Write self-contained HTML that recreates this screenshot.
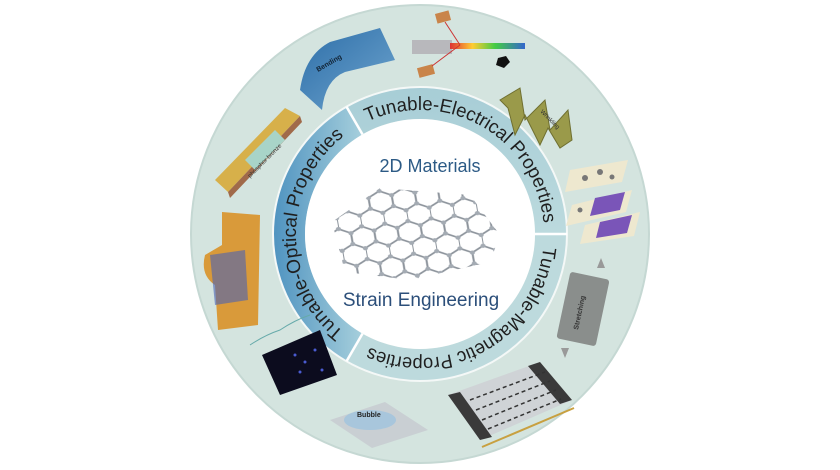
<!DOCTYPE html>
<html><head><meta charset="utf-8"><style>
html,body{margin:0;padding:0;background:#fff;}
svg{display:block;}
</style></head><body>
<svg width="840" height="470" viewBox="0 0 840 470" xmlns="http://www.w3.org/2000/svg" font-family="Liberation Sans, sans-serif">
<defs>
<linearGradient id="opt" x1="0" y1="0" x2="1" y2="0">
<stop offset="0" stop-color="#4f93c0"/><stop offset="1" stop-color="#a6cfdc"/></linearGradient>
<linearGradient id="ele" x1="0" y1="0" x2="0" y2="1">
<stop offset="0" stop-color="#a7cdd6"/><stop offset="1" stop-color="#bcdade"/></linearGradient>
<linearGradient id="bend" x1="0" y1="0" x2="1" y2="1">
<stop offset="0" stop-color="#2d6ea8"/><stop offset="1" stop-color="#6fa5cf"/></linearGradient>
<linearGradient id="rain" x1="0" y1="0" x2="1" y2="0">
<stop offset="0" stop-color="#d33"/><stop offset="0.3" stop-color="#fc3"/><stop offset="0.6" stop-color="#4c4"/><stop offset="1" stop-color="#36c"/></linearGradient>
<pattern id="hex" width="17.32" height="30" patternUnits="userSpaceOnUse" patternTransform="translate(330,180) scale(1.35,1.1) rotate(-8)">
<path d="M0,5 L8.66,0 L17.32,5 M0,5 L0,15 L8.66,20 L17.32,15 M8.66,20 L8.66,30" stroke="#8d949c" stroke-width="1.5" fill="none"/>
<g fill="#a4abb3"><circle cx="0" cy="5" r="1.9"/><circle cx="8.66" cy="0" r="1.9"/><circle cx="17.32" cy="5" r="1.9"/><circle cx="0" cy="15" r="1.9"/><circle cx="17.32" cy="15" r="1.9"/><circle cx="8.66" cy="20" r="1.9"/><circle cx="8.66" cy="30" r="1.9"/></g>
</pattern>
<path id="pO" d="M358,341.4 A124 124 0 0 1 358,126.6"/>
<path id="pE" d="M358,126.6 A124 124 0 0 1 544,234"/>
<path id="pM" d="M544,234 A124 124 0 0 1 358,341.4"/>
</defs>

<circle cx="420" cy="234" r="229" fill="#d4e4df" stroke="#c5d8d3" stroke-width="2"/>

<path d="M346.5,361.3 A147 147 0 0 1 346.5,106.7 L362.5,134.4 A115 115 0 0 0 362.5,333.6 Z" fill="url(#opt)"/>
<path d="M346.5,106.7 A147 147 0 0 1 567,234 L535,234 A115 115 0 0 0 362.5,134.4 Z" fill="url(#ele)"/>
<path d="M567,234 A147 147 0 0 1 346.5,361.3 L362.5,333.6 A115 115 0 0 0 535,234 Z" fill="#bddadd"/>
<circle cx="420" cy="234" r="115" fill="#fff"/>
<circle cx="420" cy="234" r="147" fill="none" stroke="#f4f8f7" stroke-width="2"/>
<g stroke="#fff" stroke-width="2.5">
<line x1="346.5" y1="106.7" x2="362.5" y2="134.4"/>
<line x1="567" y1="234" x2="535" y2="234"/>
<line x1="346.5" y1="361.3" x2="362.5" y2="333.6"/>
</g>
<g font-size="19" fill="#1f1f1f">
<text><textPath href="#pO" startOffset="50%" text-anchor="middle" textLength="226" lengthAdjust="spacingAndGlyphs">Tunable-Optical Properties</textPath></text>
<text><textPath href="#pE" startOffset="50%" text-anchor="middle" textLength="238" lengthAdjust="spacingAndGlyphs">Tunable-Electrical Properties</textPath></text>
<text><textPath href="#pM" startOffset="50%" text-anchor="middle" textLength="234" lengthAdjust="spacingAndGlyphs">Tunable-Magnetic Properties</textPath></text>
</g>

<text x="430" y="172" font-size="18" fill="#2c5a85" text-anchor="middle">2D Materials</text>
<polygon points="332,222 380,188 470,195 500,235 490,262 410,280 345,272" fill="url(#hex)"/>
<text x="421" y="306" font-size="19" fill="#2c4f7a" text-anchor="middle">Strain Engineering</text>

<path d="M300,90 Q305,55 330,42 L380,28 L395,60 L345,72 Q325,80 322,110 Z" fill="url(#bend)"/>
<text x="318" y="72" font-size="7" font-weight="bold" fill="#123" transform="rotate(-30 318 72)">Bending</text>
<rect x="436" y="12" width="14" height="10" fill="#c9844a" transform="rotate(-15 443 17)"/>
<rect x="412" y="40" width="40" height="14" fill="#b8b8bc"/>
<rect x="450" y="43" width="75" height="6" fill="url(#rain)"/>
<rect x="418" y="66" width="16" height="10" fill="#c9844a" transform="rotate(-15 426 71)"/>
<line x1="445" y1="22" x2="460" y2="45" stroke="#c33" stroke-width="1"/>
<line x1="460" y1="45" x2="432" y2="66" stroke="#c33" stroke-width="1"/>
<polygon points="498,58 506,56 510,62 504,68 496,65" fill="#111"/>
<path d="M500,100 L520,88 L525,120 L545,100 L550,130 L568,110 L572,140 L560,148 L548,128 L540,145 L525,115 L515,135 L508,108 Z" fill="#9a9a4a" stroke="#6f6f30" stroke-width="1"/>
<text x="540" y="112" font-size="6" fill="#333" transform="rotate(45 540 112)">Wrinkling</text>
<polygon points="570,170 628,160 622,182 565,192" fill="#eee8cf"/>
<polygon points="572,205 632,190 626,212 566,226" fill="#eee8cf"/>
<polygon points="595,198 625,192 620,210 590,216" fill="#7a55b8"/>
<polygon points="585,225 640,212 634,236 580,244" fill="#eee8cf"/>
<polygon points="600,222 632,215 627,233 596,238" fill="#7a55b8"/>
<g fill="#777"><circle cx="585" cy="178" r="3"/><circle cx="600" cy="172" r="3"/><circle cx="612" cy="177" r="2.5"/><circle cx="580" cy="210" r="2.5"/></g>
<rect x="563" y="275" width="40" height="68" rx="3" fill="#8a8e8c" transform="rotate(12 583 309)"/>
<text x="578" y="330" font-size="7" font-weight="bold" fill="#333" transform="rotate(-78 578 330)">Stretching</text>
<polygon points="601,258 605,268 597,268" fill="#999"/>
<polygon points="565,358 569,348 561,348" fill="#999"/>
<polygon points="448,395 540,362 572,400 480,440" fill="#cfd3d6"/>
<polygon points="448,395 460,392 492,437 480,440" fill="#3a3a3a"/>
<polygon points="528,366 540,362 572,400 560,404" fill="#3a3a3a"/>
<line x1="482" y1="447" x2="574" y2="408" stroke="#c8a040" stroke-width="2"/>
<g stroke="#333" stroke-width="1.5" stroke-dasharray="4 3" fill="none">
<line x1="470" y1="400" x2="545" y2="372"/><line x1="476" y1="410" x2="550" y2="381"/><line x1="482" y1="420" x2="556" y2="390"/><line x1="488" y1="429" x2="561" y2="399"/></g>
<polygon points="330,420 385,402 428,430 372,448" fill="#c9cfd3"/>
<ellipse cx="370" cy="420" rx="26" ry="10" fill="#a8c6dc"/>
<text x="357" y="417" font-size="7" font-weight="bold" fill="#222">Bubble</text>
<polygon points="262,355 320,330 337,375 280,395" fill="#0c0c1e"/>
<g fill="#4a5bd0"><circle cx="295" cy="355" r="1.5"/><circle cx="305" cy="362" r="1.5"/><circle cx="315" cy="350" r="1.5"/><circle cx="300" cy="372" r="1.5"/><circle cx="322" cy="370" r="1.5"/></g>
<path d="M250,345 Q265,335 280,330 Q295,320 310,315" stroke="#6aa" fill="none"/>
<path d="M222,212 L260,215 L258,325 L218,330 L215,285 Q200,275 205,255 L222,245 Z" fill="#d99a3a"/>
<path d="M210,255 L245,250 L248,300 L215,305 Z" fill="#4a62b4" opacity="0.6"/>
<polygon points="215,180 285,108 300,116 228,192" fill="#d7b04a"/>
<polygon points="228,192 300,116 302,122 230,198" fill="#a06a4a"/>
<polygon points="245,160 275,130 285,140 255,170" fill="#a8d4c8"/>
<text x="250" y="178" font-size="6" fill="#333" transform="rotate(-45 250 178)">phosphor bronze</text>
</svg>
</body></html>
